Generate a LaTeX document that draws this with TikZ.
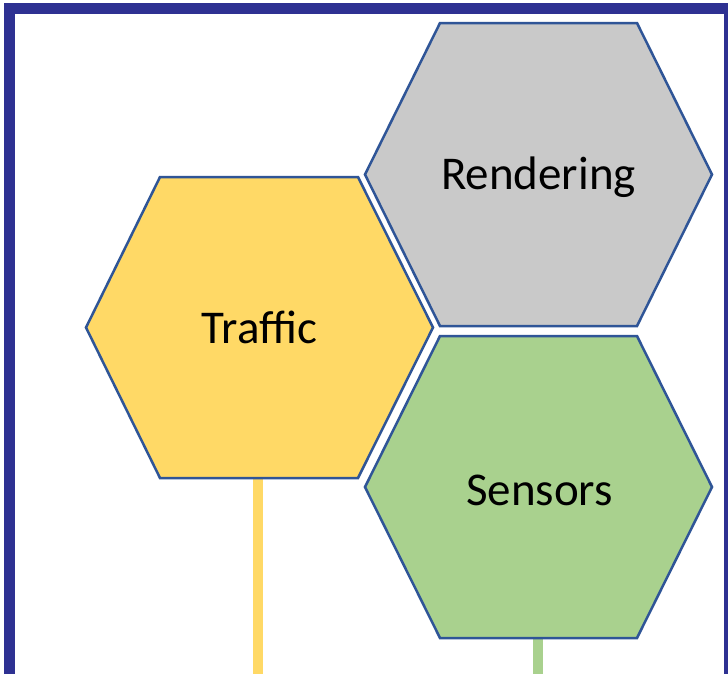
\documentclass[tikz,border=0pt]{standalone}
\usepackage{fontspec}
\setmainfont{Carlito}
\definecolor{frameblue}{HTML}{2E3192}
\definecolor{hexline}{HTML}{2F5597}
\definecolor{hexyellow}{HTML}{FFD966}
\definecolor{hexgrey}{HTML}{C9C9C9}
\definecolor{hexgreen}{HTML}{A9D18E}
\tikzset{
  hexagon/.style={draw=hexline, line width=2.5pt, line join=miter},
  hexlabel/.style={font=\fontsize{47}{56}\selectfont, text=black, inner sep=0pt, anchor=base},
  stem/.style={line width=10pt}
}
\begin{document}
\begin{tikzpicture}[x=1pt,y=-1pt]
\useasboundingbox (0,0) rectangle (728,673);
\begin{scope}
\clip (0,0) rectangle (728,673);
\fill[white] (0,0) rectangle (728,673);
% frame
\draw[frameblue, line width=11pt] (9.5,8.5) rectangle (729.5,700);
% connectors
\coordinate (trafficbase) at (258,478);
\coordinate (trafficend) at (258,680);
\coordinate (sensorsbase) at (538,638);
\coordinate (sensorsend) at (538,680);
\draw[stem, hexyellow] (trafficbase) -- (trafficend);
\draw[stem, hexgreen] (sensorsbase) -- (sensorsend);
% hexagons
\draw[hexagon, fill=hexyellow] (160,177) -- (358,177) -- (433,327.5) -- (358,478) -- (160,478) -- (86,327.5) -- cycle;
\draw[hexagon, fill=hexgrey] (440,23) -- (637,23) -- (712,174.5) -- (637,326) -- (440,326) -- (365,174.5) -- cycle;
\draw[hexagon, fill=hexgreen] (440,336) -- (637,336) -- (712,487) -- (637,638) -- (440,638) -- (365,487) -- cycle;
% labels
\node[hexlabel] (traffic) at (259.5,343) {Traffic};
\node[hexlabel] (rendering) at (538.5,189) {Rendering};
\node[hexlabel] (sensors) at (539.5,505) {Sensors};
\end{scope}
\end{tikzpicture}
\end{document}
